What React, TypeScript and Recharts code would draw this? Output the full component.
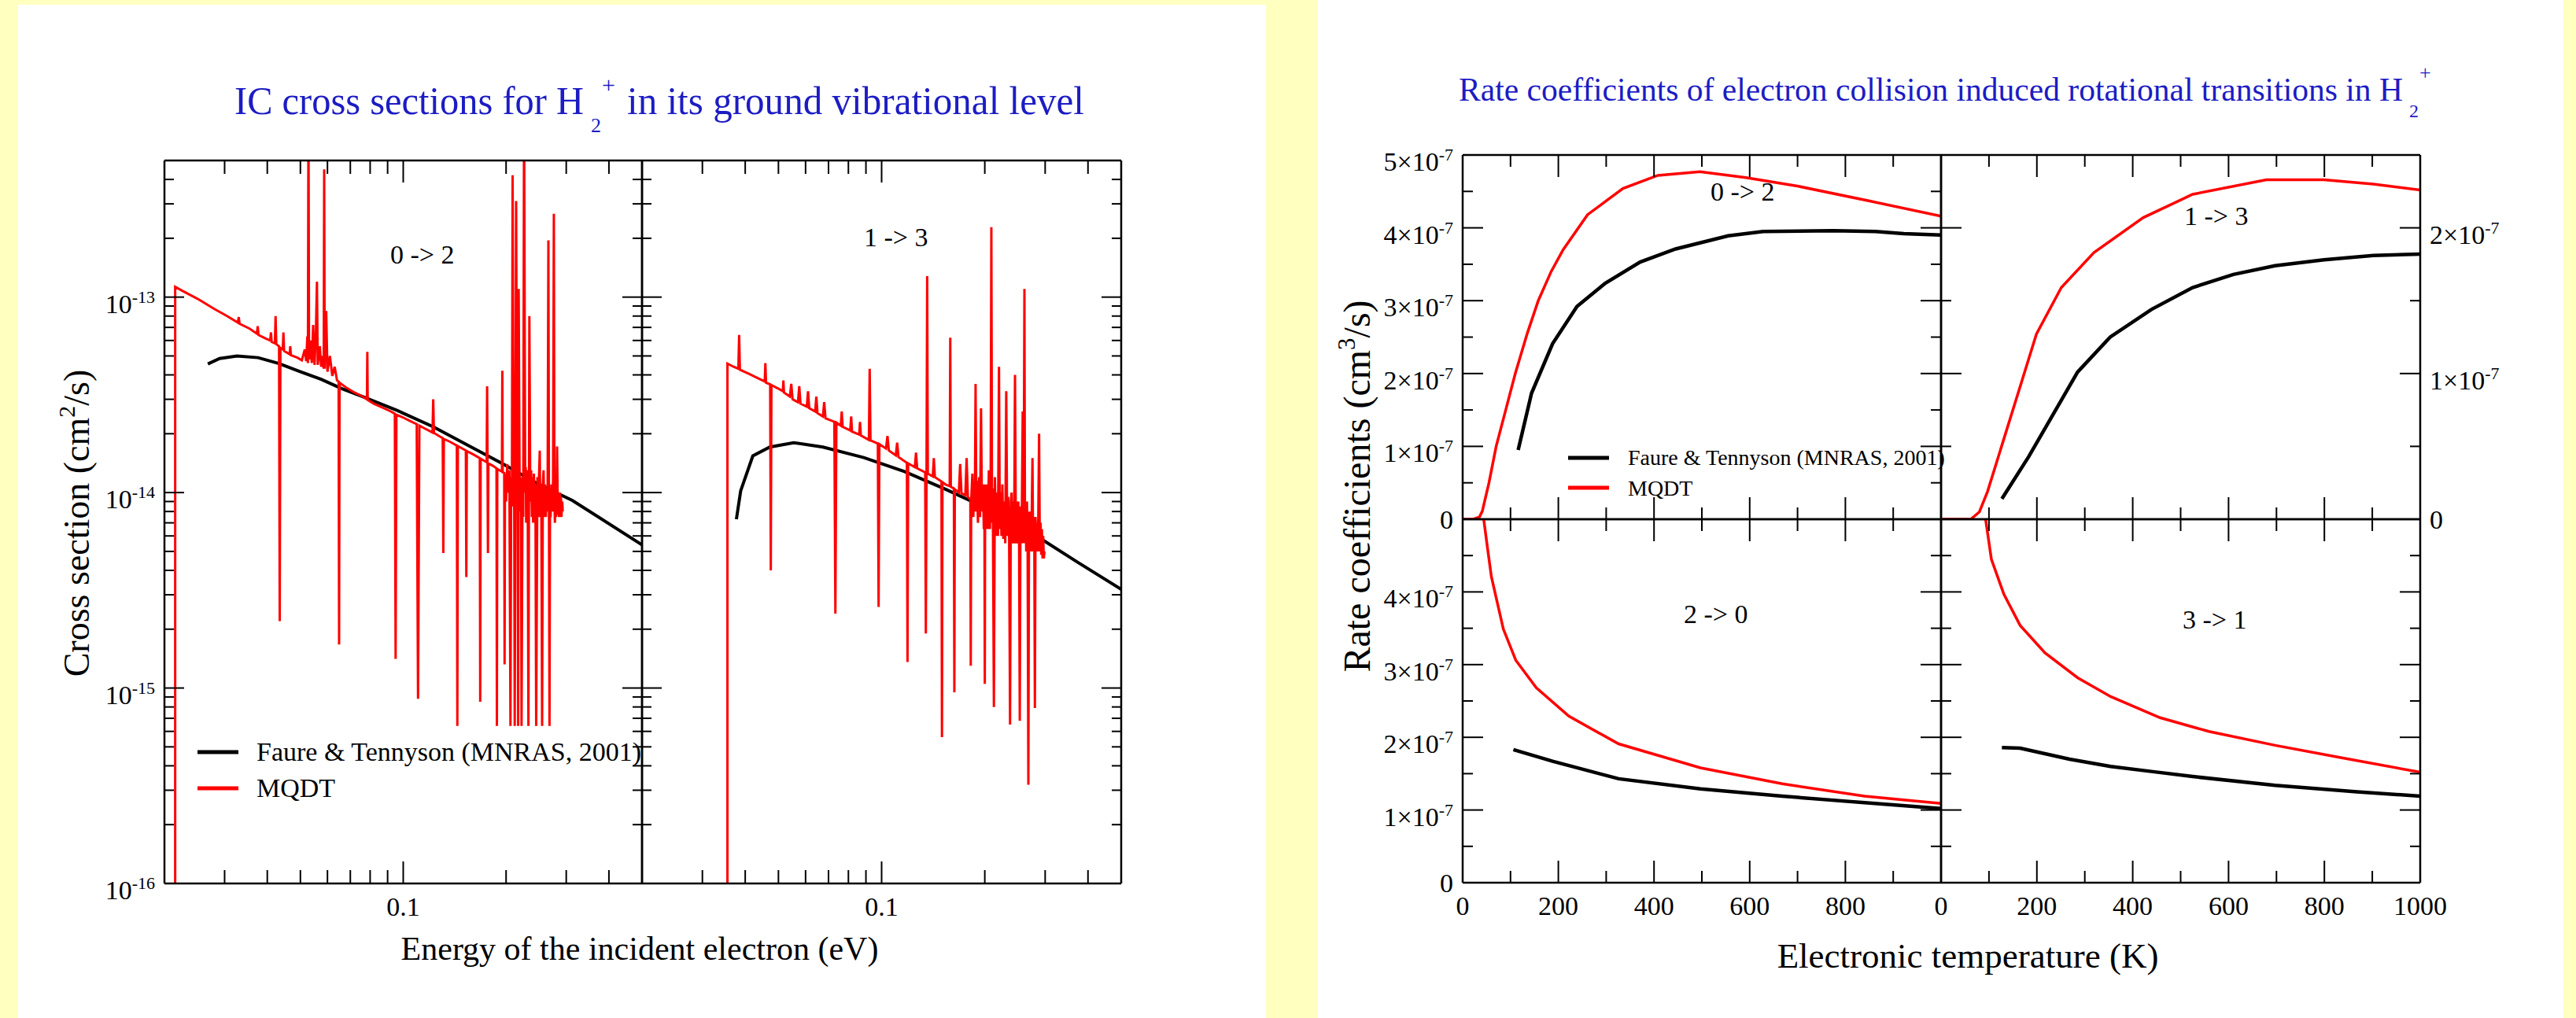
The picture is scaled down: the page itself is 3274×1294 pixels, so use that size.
import React from 'react'
import { LineChart, Line, XAxis, YAxis } from 'recharts'

const SERIF = '"Liberation Serif", "DejaVu Serif", serif'
const BLUE = '#1c1cc4'
const RED = '#ff0000'

type Pt = [number, number]

// ---- IC cross sections (energy in eV, cross section) ----
const faure02: Pt[] = [
  [0.0268, 4.55e-14], [0.029, 4.85e-14], [0.0326, 5.0e-14], [0.0376, 4.9e-14], [0.0433, 4.57e-14],
  [0.0499, 4.16e-14], [0.0575, 3.8e-14], [0.0662, 3.4e-14], [0.0763, 3.09e-14], [0.0965, 2.62e-14],
  [0.1224, 2.17e-14], [0.155, 1.74e-14], [0.196, 1.4e-14], [0.247, 1.11e-14], [0.313, 9.1e-15], [0.5, 5.4e-15],
]

const mqdt02: Pt[] = [
  [0.0215, 1e-16], [0.0215, 1.13e-13], [0.0225, 1.08e-13], [0.025, 9.8e-14], [0.028, 8.7e-14], [0.0305, 8.0e-14],
  [0.0328, 7.4e-14], [0.033, 7.9e-14], [0.0332, 7.3e-14], [0.0355, 6.9e-14], [0.0373, 6.5e-14], [0.0375, 7.1e-14],
  [0.0377, 6.4e-14], [0.0395, 6.15e-14], [0.0408, 6.0e-14], [0.041, 6.6e-14], [0.0412, 5.9e-14], [0.0421, 5.8e-14],
  [0.0423, 8.0e-14], [0.0425, 5.75e-14], [0.0433, 5.6e-14], [0.0435, 2.2e-15], [0.0437, 5.5e-14], [0.0444, 5.4e-14],
  [0.0446, 6.6e-14], [0.0448, 5.3e-14], [0.0465, 5.1e-14], [0.0467, 5.6e-14], [0.0469, 5.05e-14], [0.049, 4.9e-14],
  [0.0505, 4.75e-14], [0.0515, 5.4e-14], [0.052, 4.7e-14], [0.0524, 6.3e-14], [0.0526, 4.6e-14], [0.0528, 1e-12],
  [0.053, 4.8e-14], [0.0535, 6.0e-14], [0.054, 4.6e-14], [0.0545, 7.2e-14], [0.055, 4.5e-14], [0.0555, 6.5e-14],
  [0.0559, 1.2e-13], [0.0562, 4.5e-14], [0.057, 5.6e-14], [0.0575, 4.4e-14], [0.058, 5.0e-14], [0.0585, 4.3e-14],
  [0.0587, 4.5e-13], [0.0589, 4.3e-14], [0.0595, 8.5e-14], [0.06, 4.15e-14], [0.061, 5.0e-14], [0.062, 3.95e-14],
  [0.063, 4.4e-14], [0.064, 3.75e-14], [0.0647, 3.7e-14], [0.0649, 1.67e-15], [0.0651, 3.65e-14], [0.068, 3.45e-14],
  [0.072, 3.25e-14], [0.076, 3.1e-14], [0.0783, 3.0e-14], [0.0785, 5.25e-14], [0.0787, 2.98e-14], [0.082, 2.85e-14],
  [0.087, 2.72e-14], [0.092, 2.6e-14], [0.0945, 2.53e-14], [0.095, 1.41e-15], [0.0955, 2.5e-14], [0.1, 2.42e-14],
  [0.105, 2.32e-14], [0.1095, 2.24e-14], [0.1105, 8.8e-16], [0.1115, 2.2e-14], [0.116, 2.12e-14], [0.1218, 2.03e-14],
  [0.1224, 3.0e-14], [0.123, 2.02e-14], [0.127, 1.95e-14], [0.1305, 1.9e-14], [0.131, 4.9e-15], [0.1315, 1.88e-14],
  [0.137, 1.82e-14], [0.1435, 1.74e-14], [0.144, 6.4e-16], [0.1445, 1.73e-14], [0.148, 1.69e-14], [0.1525, 1.64e-14],
  [0.153, 3.7e-15], [0.1535, 1.63e-14], [0.16, 1.57e-14], [0.1675, 1.5e-14], [0.168, 8.5e-16], [0.1685, 1.49e-14],
  [0.1755, 1.43e-14], [0.176, 3.5e-14], [0.1765, 1.42e-14], [0.177, 4.9e-15], [0.1775, 1.41e-14], [0.183, 1.37e-14],
  [0.1875, 1.33e-14], [0.188, 6.4e-16], [0.1885, 1.32e-14], [0.1945, 1.28e-14], [0.195, 4.2e-14], [0.1955, 1.27e-14],
  [0.1975, 1.26e-14], [0.198, 1.32e-15], [0.1985, 1.25e-14], [0.2, 9e-15], [0.2015, 1.4e-14], [0.203, 1.0e-14],
  [0.2045, 1.3e-14], [0.206, 6.4e-16], [0.207, 1.2e-14], [0.208, 8.5e-15], [0.209, 4.2e-13], [0.2105, 1.1e-14],
  [0.2113, 8e-15], [0.212, 6.4e-16], [0.213, 1.25e-14], [0.214, 3.1e-13], [0.2155, 1.0e-14], [0.2162, 1.4e-14],
  [0.217, 6.4e-16], [0.2177, 1.1e-13], [0.219, 1.3e-14], [0.2198, 8e-15], [0.2205, 1.2e-14], [0.2212, 8e-15],
  [0.222, 6.4e-16], [0.2235, 1.2e-14], [0.2245, 7.5e-15], [0.2258, 1e-12], [0.2275, 1.0e-14], [0.2283, 1.35e-14],
  [0.229, 7e-15], [0.2305, 1.3e-14], [0.2315, 8e-15], [0.2325, 6.4e-16], [0.234, 8e-14], [0.2355, 9e-15],
  [0.2368, 1.3e-14], [0.238, 7.5e-15], [0.239, 1.2e-14], [0.24, 7e-15], [0.2412, 1.25e-14], [0.2425, 8e-15],
  [0.2437, 1.1e-14], [0.245, 6.4e-16], [0.247, 1.2e-14], [0.2482, 7.5e-15], [0.2495, 1.15e-14], [0.251, 1.64e-14],
  [0.2518, 7.5e-15], [0.2525, 1.1e-14], [0.2537, 8e-15], [0.255, 6.4e-16], [0.2562, 1.1e-14], [0.2575, 1.3e-14],
  [0.2587, 7.5e-15], [0.26, 1.1e-14], [0.2615, 7.5e-15], [0.263, 1.05e-14], [0.2645, 8e-15], [0.266, 1.95e-13],
  [0.267, 9e-15], [0.268, 6.4e-16], [0.269, 1.05e-14], [0.27, 7.5e-15], [0.2715, 1.1e-14], [0.273, 8e-15],
  [0.2745, 1.15e-14], [0.276, 2.67e-13], [0.277, 9e-15], [0.278, 7e-15], [0.279, 1.1e-14], [0.28, 7.5e-15],
  [0.281, 1.0e-14], [0.282, 1.72e-14], [0.2835, 7.7e-15], [0.2845, 1.0e-14], [0.2855, 7.5e-15], [0.287, 1.0e-14],
  [0.288, 7.5e-15], [0.2895, 9.5e-15], [0.2905, 7.5e-15], [0.292, 9e-15], [0.293, 8e-15],
]

const faure13: Pt[] = [
  [0.0377, 7.3e-15], [0.0388, 1.02e-14], [0.0421, 1.54e-14], [0.0472, 1.71e-14], [0.0554, 1.8e-14],
  [0.0674, 1.71e-14], [0.0887, 1.51e-14], [0.1166, 1.28e-14], [0.1536, 1.04e-14], [0.203, 8.3e-15],
  [0.283, 6.0e-15], [0.373, 4.4e-15], [0.5, 3.2e-15],
]

const mqdt13: Pt[] = [
  [0.0355, 1e-16], [0.0355, 4.57e-14], [0.037, 4.4e-14], [0.0382, 4.3e-14], [0.0384, 6.4e-14], [0.0386, 4.25e-14],
  [0.041, 4.05e-14], [0.0435, 3.85e-14], [0.0456, 3.7e-14], [0.0458, 4.6e-14], [0.046, 3.65e-14], [0.0473, 3.58e-14],
  [0.0475, 4.0e-15], [0.0477, 3.55e-14], [0.05, 3.4e-14], [0.0515, 3.3e-14], [0.0517, 3.75e-14], [0.0519, 3.25e-14],
  [0.054, 3.1e-14], [0.0545, 3.6e-14], [0.055, 3.0e-14], [0.057, 2.9e-14], [0.0575, 3.5e-14], [0.058, 2.85e-14],
  [0.0605, 2.75e-14], [0.061, 3.3e-14], [0.0615, 2.7e-14], [0.064, 2.6e-14], [0.0645, 3.1e-14], [0.065, 2.55e-14],
  [0.0674, 2.45e-14], [0.068, 2.9e-14], [0.0686, 2.4e-14], [0.0728, 2.3e-14], [0.0733, 2.4e-15], [0.0738, 2.28e-14],
  [0.076, 2.2e-14], [0.0765, 2.6e-14], [0.077, 2.17e-14], [0.081, 2.08e-14], [0.0815, 2.45e-14], [0.082, 2.05e-14],
  [0.086, 1.98e-14], [0.0865, 2.3e-14], [0.087, 1.96e-14], [0.0918, 1.86e-14], [0.0923, 4.3e-14], [0.0928, 1.85e-14],
  [0.0975, 1.78e-14], [0.098, 2.6e-15], [0.0985, 1.77e-14], [0.103, 1.68e-14], [0.104, 1.95e-14], [0.105, 1.64e-14],
  [0.11, 1.55e-14], [0.111, 1.8e-14], [0.112, 1.52e-14], [0.1185, 1.42e-14], [0.119, 1.36e-15], [0.1195, 1.41e-14],
  [0.125, 1.35e-14], [0.126, 1.6e-14], [0.127, 1.33e-14], [0.134, 1.27e-14], [0.1346, 1.9e-15], [0.1352, 1.26e-14],
  [0.1358, 1.28e-13], [0.1364, 1.25e-14], [0.141, 1.21e-14], [0.142, 1.5e-14], [0.143, 1.2e-14], [0.1495, 1.14e-14],
  [0.15, 5.6e-16], [0.1505, 1.13e-14], [0.1536, 1.1e-14], [0.158, 1.08e-14], [0.1586, 6.2e-14], [0.1592, 1.07e-14],
  [0.1625, 1.05e-14], [0.163, 9.5e-16], [0.1635, 1.04e-14], [0.168, 1.0e-14], [0.1695, 1.4e-14], [0.171, 9.9e-15],
  [0.1755, 9.7e-15], [0.177, 1.5e-14], [0.1785, 9.5e-15], [0.1815, 9.2e-15], [0.182, 1.3e-15], [0.1825, 9.1e-15],
  [0.184, 1.25e-14], [0.1852, 7.5e-15], [0.186, 1.1e-14], [0.187, 8e-15], [0.188, 3.6e-14], [0.189, 8e-15],
  [0.19, 1.15e-14], [0.191, 7e-15], [0.1925, 1.2e-14], [0.1937, 7.5e-15], [0.195, 2.7e-14], [0.1962, 8e-15],
  [0.1975, 1.1e-14], [0.1987, 6.5e-15], [0.1995, 9e-15], [0.2, 1.05e-15], [0.2005, 1.1e-14], [0.2018, 6.5e-15],
  [0.203, 1.1e-14], [0.2042, 6.5e-15], [0.2055, 1.3e-14], [0.207, 6.5e-15], [0.208, 1.0e-14], [0.209, 2.28e-13],
  [0.21, 7e-15], [0.211, 1.05e-14], [0.2126, 8.0e-16], [0.214, 1.2e-14], [0.2155, 6e-15], [0.217, 1.0e-14],
  [0.2185, 6e-15], [0.22, 4.4e-14], [0.2212, 6.5e-15], [0.2225, 1.0e-14], [0.2237, 6e-15], [0.225, 1.1e-14],
  [0.2265, 5.8e-15], [0.228, 9e-15], [0.2295, 5.5e-15], [0.231, 3.3e-14], [0.2325, 6e-15], [0.234, 9.5e-15],
  [0.2355, 6e-15], [0.237, 6.5e-16], [0.2382, 9e-15], [0.2395, 1.0e-14], [0.2407, 5.5e-15], [0.242, 9e-15],
  [0.2435, 5.5e-15], [0.245, 4.0e-14], [0.2465, 5.5e-15], [0.248, 9e-15], [0.2492, 5.5e-15], [0.2505, 9e-15],
  [0.2518, 5.5e-15], [0.253, 6.8e-16], [0.2542, 8.5e-15], [0.2555, 5.5e-15], [0.2567, 9e-15], [0.258, 2.6e-14],
  [0.2595, 5.5e-15], [0.261, 1.1e-13], [0.262, 5.5e-15], [0.263, 8.5e-15], [0.2642, 5e-15], [0.2655, 9e-15],
  [0.2667, 5e-15], [0.268, 3.2e-16], [0.2692, 8e-15], [0.2705, 5e-15], [0.2717, 8e-15], [0.273, 5e-15],
  [0.2742, 8e-15], [0.2755, 1.5e-14], [0.2767, 5e-15], [0.278, 7.5e-15], [0.279, 5e-15], [0.28, 7.9e-16],
  [0.2812, 7.5e-15], [0.2825, 5e-15], [0.2837, 7e-15], [0.285, 5e-15], [0.2865, 7.5e-15], [0.288, 2.0e-14],
  [0.2895, 5e-15], [0.291, 7e-15], [0.2922, 4.8e-15], [0.2935, 6.5e-15], [0.2948, 4.6e-15], [0.296, 6e-15],
  [0.2973, 4.6e-15], [0.2986, 5.0e-15],
]

// ---- rate coefficients (temperature in K, rate in cm3/s) ----
const faureRate02: Pt[] = [
  [116, 0.95e-7], [144, 1.73e-7], [188, 2.41e-7], [239, 2.92e-7], [298, 3.24e-7], [371, 3.53e-7], [445, 3.71e-7],
  [555, 3.89e-7], [628, 3.95e-7], [775, 3.96e-7], [863, 3.95e-7], [922, 3.92e-7], [1000, 3.9e-7],
]
const mqdtRate02: Pt[] = [
  [0, 0], [22, 0], [35, 0.03e-7], [41, 0.11e-7], [55, 0.5e-7], [70, 1.0e-7], [90, 1.5e-7], [110, 2.0e-7],
  [135, 2.55e-7], [158, 3.0e-7], [185, 3.4e-7], [210, 3.7e-7], [261, 4.18e-7], [335, 4.54e-7], [408, 4.72e-7],
  [496, 4.77e-7], [592, 4.69e-7], [702, 4.57e-7], [849, 4.37e-7], [1000, 4.16e-7],
]
const faureRate13: Pt[] = [
  [127, 0.14e-7], [183, 0.43e-7], [234, 0.72e-7], [285, 1.01e-7], [353, 1.25e-7], [439, 1.44e-7], [525, 1.59e-7],
  [610, 1.68e-7], [697, 1.74e-7], [799, 1.78e-7], [902, 1.81e-7], [1000, 1.82e-7],
]
const mqdtRate13: Pt[] = [
  [0, 0], [62, 0], [80, 0.05e-7], [97, 0.19e-7], [131, 0.55e-7], [165, 0.91e-7], [199, 1.27e-7], [251, 1.59e-7],
  [319, 1.83e-7], [422, 2.07e-7], [525, 2.23e-7], [679, 2.33e-7], [799, 2.33e-7], [902, 2.3e-7], [1000, 2.26e-7],
]
const faureRate20: Pt[] = [
  [106, 1.83e-7], [188, 1.67e-7], [326, 1.43e-7], [497, 1.29e-7], [668, 1.19e-7], [840, 1.1e-7], [1000, 1.02e-7],
]
const mqdtRate20: Pt[] = [
  [36, 6e-7], [44, 5.0e-7], [52, 4.6e-7], [60, 4.21e-7], [85, 3.49e-7], [111, 3.06e-7], [154, 2.68e-7],
  [222, 2.29e-7], [326, 1.91e-7], [497, 1.58e-7], [668, 1.36e-7], [840, 1.19e-7], [1000, 1.09e-7],
]
const faureRate31: Pt[] = [
  [127, 1.86e-7], [165, 1.85e-7], [268, 1.7e-7], [354, 1.6e-7], [439, 1.53e-7], [525, 1.46e-7], [697, 1.34e-7],
  [868, 1.25e-7], [1000, 1.19e-7],
]
const mqdtRate31: Pt[] = [
  [88, 6e-7], [93, 5.0e-7], [105, 4.45e-7], [131, 3.97e-7], [165, 3.54e-7], [217, 3.16e-7], [285, 2.82e-7],
  [354, 2.56e-7], [457, 2.27e-7], [559, 2.08e-7], [697, 1.89e-7], [834, 1.72e-7], [1000, 1.52e-7],
]

// ---- ticks ----
const energyTicks = [0.02, 0.03, 0.04, 0.05, 0.06, 0.07, 0.08, 0.09, 0.1, 0.2, 0.3, 0.4, 0.5]
const energyMajor = [0.1]
const energyLabels = ['0.1']
const sigmaTicks = [
  1e-16, 2e-16, 3e-16, 4e-16, 5e-16, 6e-16, 7e-16, 8e-16, 9e-16,
  1e-15, 2e-15, 3e-15, 4e-15, 5e-15, 6e-15, 7e-15, 8e-15, 9e-15,
  1e-14, 2e-14, 3e-14, 4e-14, 5e-14, 6e-14, 7e-14, 8e-14, 9e-14,
  1e-13, 2e-13, 3e-13, 4e-13, 5e-13,
]
const sigmaDecades = [1e-16, 1e-15, 1e-14, 1e-13]
const sigmaExponents = ['-16', '-15', '-14', '-13']

const tempTicks = [0, 100, 200, 300, 400, 500, 600, 700, 800, 900, 1000]
const tempMajor = [0, 200, 400, 600, 800, 1000]
const tempLabelsLeft = ['0', '200', '400', '600', '800', '']
const tempLabelsRight = ['0', '200', '400', '600', '800', '1000']
const rateTicks = [0, 0.5e-7, 1e-7, 1.5e-7, 2e-7, 2.5e-7, 3e-7, 3.5e-7, 4e-7, 4.5e-7, 5e-7]
const rateTicksSmall = [0, 0.5e-7, 1e-7, 1.5e-7, 2e-7, 2.5e-7]
const rateMajor = [0, 1e-7, 2e-7, 3e-7, 4e-7, 5e-7]
const rateMantissa = ['0', '1', '2', '3', '4', '5']

type Side = 'left' | 'right' | 'top' | 'bottom'
type Lab = { main: string; sup?: string }

const near = (a: number, b: number) => Math.abs(a - b) <= Math.abs(b) * 1e-6 + 1e-30

function makeTick(side: Side, majors: number[], majorLen: number, minorLen: number, labels: [number, Lab][] = []) {
  return (props: any) => {
    const x = Number(props.x)
    const y = Number(props.y)
    const v = Number(props.payload?.value)
    const len = majors.some((m) => near(v, m)) ? majorLen : minorLen
    const dx = side === 'left' ? len : side === 'right' ? -len : 0
    const dy = side === 'top' ? len : side === 'bottom' ? -len : 0
    const found = labels.find(([m]) => near(v, m))
    const lab = found && found[1].main ? found[1] : null
    let text = null
    if (lab) {
      const sup = lab.sup ? (
        <tspan dy={-13} fontSize={22}>
          {lab.sup}
        </tspan>
      ) : null
      if (side === 'left' || side === 'right') {
        text = (
          <text
            x={side === 'left' ? x - 12 : x + 12}
            y={y + (lab.sup ? 20 : 12)}
            textAnchor={side === 'left' ? 'end' : 'start'}
            fontSize={34}
            fontFamily={SERIF}
            fill="#000"
          >
            {lab.main}
            {sup}
          </text>
        )
      } else {
        text = (
          <text x={x} y={y + 41} textAnchor="middle" fontSize={34} fontFamily={SERIF} fill="#000">
            {lab.main}
          </text>
        )
      }
    }
    return (
      <g>
        <line x1={x} y1={y} x2={x + dx} y2={y + dy} stroke="#000" strokeWidth={2} />
        {text}
      </g>
    )
  }
}

const energyLab: [number, Lab][] = energyMajor.map((v, i) => [v, { main: energyLabels[i] }])
const sigmaLab: [number, Lab][] = sigmaDecades.map((v, i) => [v, { main: '10', sup: sigmaExponents[i] }])
const rateLabAll: [number, Lab][] = rateMajor.map((v, i) => [v, v === 0 ? { main: '0' } : { main: rateMantissa[i] + '\u00d710', sup: '-7' }])
const rateLabLow: [number, Lab][] = rateLabAll.filter(([v]) => v < 4.5e-7)
const rateLabSmall: [number, Lab][] = rateLabAll.filter(([v]) => v < 2.5e-7)
const tempLabL: [number, Lab][] = tempMajor.map((v, i) => [v, { main: tempLabelsLeft[i] }])
const tempLabR: [number, Lab][] = tempMajor.map((v, i) => [v, { main: tempLabelsRight[i] }])

// cross-section ticks
const csBottom = makeTick('bottom', energyMajor, 28, 17, energyLab)
const csTop = makeTick('top', energyMajor, 28, 17)
const csLeftLab = makeTick('left', sigmaDecades, 25, 12, sigmaLab)
const csLeft = makeTick('left', sigmaDecades, 25, 12)
const csRight = makeTick('right', sigmaDecades, 25, 12)
// rate ticks
const rtTop = makeTick('top', tempMajor, 28, 15)
const rtBottom = makeTick('bottom', tempMajor, 28, 15)
const rtBottomL = makeTick('bottom', tempMajor, 28, 15, tempLabL)
const rtBottomR = makeTick('bottom', tempMajor, 28, 15, tempLabR)
const rtLeftAll = makeTick('left', rateMajor, 26, 13, rateLabAll)
const rtLeftLow = makeTick('left', rateMajor, 26, 13, rateLabLow)
const rtLeft = makeTick('left', rateMajor, 26, 13)
const rtRight = makeTick('right', rateMajor, 26, 13)
const rtRightSmall = makeTick('right', rateMajor, 26, 13, rateLabSmall)

type Series = { data: Pt[]; color: string; width: number }

function Subplot(p: {
  x: number
  y: number
  w: number
  h: number
  log: boolean
  xDomain: [number, number]
  yDomain: [number, number]
  xTicks: number[]
  yTicks: number[]
  tickBottom: any
  tickTop: any
  tickLeft: any
  tickRight: any
  series: Series[]
}) {
  const L = 140
  const R = 140
  const T = 40
  const B = 70
  const scale = p.log ? 'log' : 'linear'
  const axisLine = { stroke: '#000', strokeWidth: 2.5 }
  const common: any = {
    type: 'number',
    allowDataOverflow: true,
    interval: 0,
    tickSize: 0,
    tickMargin: 0,
    tickLine: false,
    axisLine,
    scale,
  }
  return (
    <div style={{ position: 'absolute', left: p.x - L, top: p.y - T }}>
      <LineChart width={p.w + L + R} height={p.h + T + B} margin={{ top: 0, right: 0, bottom: 0, left: 0 }}>
        <XAxis xAxisId="b" orientation="bottom" dataKey="x" height={B} domain={p.xDomain} ticks={p.xTicks} tick={p.tickBottom} {...common} />
        <XAxis xAxisId="t" orientation="top" dataKey="x" height={T} domain={p.xDomain} ticks={p.xTicks} tick={p.tickTop} {...common} />
        <YAxis yAxisId="l" orientation="left" width={L} domain={p.yDomain} ticks={p.yTicks} tick={p.tickLeft} {...common} />
        <YAxis yAxisId="r" orientation="right" width={R} domain={p.yDomain} ticks={p.yTicks} tick={p.tickRight} {...common} />
        {p.series.map((s, i) => (
          <Line
            key={i}
            xAxisId="b"
            yAxisId="l"
            data={s.data.map(([a, b]) => ({ x: a, y: b }))}
            dataKey="y"
            type="linear"
            stroke={s.color}
            strokeWidth={s.width}
            dot={false}
            activeDot={false}
            isAnimationActive={false}
          />
        ))}
      </LineChart>
    </div>
  )
}

export default function App() {
  const eDom: [number, number] = [0.02, 0.5]
  const sDom: [number, number] = [1e-16, 5e-13]
  const tDom: [number, number] = [0, 1000]
  const rDom: [number, number] = [0, 5e-7]
  const rDomSmall: [number, number] = [0, 2.5e-7]
  return (
    <div style={{ position: 'absolute', left: 0, top: 0, width: 3274, height: 1294, background: '#FFFFC0', overflow: 'hidden' }}>
      <div style={{ position: 'absolute', left: 23, top: 6, width: 1586, height: 1288, background: '#fff' }} />
      <div style={{ position: 'absolute', left: 1675, top: 0, width: 1583, height: 1294, background: '#fff' }} />

      {/* IC cross sections */}
      <Subplot x={209} y={204} w={607} h={919} log xDomain={eDom} yDomain={sDom} xTicks={energyTicks} yTicks={sigmaTicks}
        tickBottom={csBottom} tickTop={csTop} tickLeft={csLeftLab} tickRight={csRight}
        series={[{ data: faure02, color: '#000', width: 4 }, { data: mqdt02, color: RED, width: 3 }]} />
      <Subplot x={816} y={204} w={609} h={919} log xDomain={eDom} yDomain={sDom} xTicks={energyTicks} yTicks={sigmaTicks}
        tickBottom={csBottom} tickTop={csTop} tickLeft={csLeft} tickRight={csRight}
        series={[{ data: faure13, color: '#000', width: 4 }, { data: mqdt13, color: RED, width: 3 }]} />

      {/* rate coefficients */}
      <Subplot x={1859} y={197} w={608} h={463} log={false} xDomain={tDom} yDomain={rDom} xTicks={tempTicks} yTicks={rateTicks}
        tickBottom={rtBottom} tickTop={rtTop} tickLeft={rtLeftAll} tickRight={rtRight}
        series={[{ data: faureRate02, color: '#000', width: 4.5 }, { data: mqdtRate02, color: RED, width: 3.5 }]} />
      <Subplot x={2467} y={197} w={609} h={463} log={false} xDomain={tDom} yDomain={rDomSmall} xTicks={tempTicks} yTicks={rateTicksSmall}
        tickBottom={rtBottom} tickTop={rtTop} tickLeft={rtLeft} tickRight={rtRightSmall}
        series={[{ data: faureRate13, color: '#000', width: 4.5 }, { data: mqdtRate13, color: RED, width: 3.5 }]} />
      <Subplot x={1859} y={660} w={608} h={462} log={false} xDomain={tDom} yDomain={rDom} xTicks={tempTicks} yTicks={rateTicks}
        tickBottom={rtBottomL} tickTop={rtTop} tickLeft={rtLeftLow} tickRight={rtRight}
        series={[{ data: faureRate20, color: '#000', width: 4.5 }, { data: mqdtRate20, color: RED, width: 3.5 }]} />
      <Subplot x={2467} y={660} w={609} h={462} log={false} xDomain={tDom} yDomain={rDom} xTicks={tempTicks} yTicks={rateTicks}
        tickBottom={rtBottomR} tickTop={rtTop} tickLeft={rtLeft} tickRight={rtRight}
        series={[{ data: faureRate31, color: '#000', width: 4.5 }, { data: mqdtRate31, color: RED, width: 3.5 }]} />

      <svg width={3274} height={1294} style={{ position: 'absolute', left: 0, top: 0, pointerEvents: 'none' }} fontFamily={SERIF}>
        {/* left figure texts */}
        <text x={298} y={145} fontSize={50} fill={BLUE} textLength={444} lengthAdjust="spacingAndGlyphs">IC cross sections for H</text>
        <text x={751} y={168} fontSize={26} fill={BLUE}>2</text>
        <text x={765} y={118} fontSize={30} fill={BLUE}>+</text>
        <text x={797} y={145} fontSize={50} fill={BLUE} textLength={581} lengthAdjust="spacingAndGlyphs">in its ground vibrational level</text>
        <text x={113} y={665} transform="rotate(-90 113 665)" textAnchor="middle" fontSize={46}>
          Cross section (cm<tspan dy={-18} fontSize={30}>2</tspan><tspan dy={18}>/s)</tspan>
        </text>
        <text x={813} y={1220} textAnchor="middle" fontSize={42}>Energy of the incident electron (eV)</text>
        <text x={496} y={335} fontSize={34}>0 -&gt; 2</text>
        <text x={1098} y={313} fontSize={34}>1 -&gt; 3</text>
        <line x1={251} x2={303} y1={956} y2={956} stroke="#000" strokeWidth={5} />
        <text x={326} y={967} fontSize={34}>Faure &amp; Tennyson (MNRAS, 2001)</text>
        <line x1={251} x2={303} y1={1002} y2={1002} stroke={RED} strokeWidth={5} />
        <text x={326} y={1013} fontSize={34}>MQDT</text>

        {/* right figure texts */}
        <text x={1854} y={128} fontSize={42} fill={BLUE} textLength={1200} lengthAdjust="spacingAndGlyphs">
          Rate coefficients of electron collision induced rotational transitions in H
        </text>
        <text x={3062} y={149} fontSize={24} fill={BLUE}>2</text>
        <text x={3075} y={101} fontSize={26} fill={BLUE}>+</text>
        <text x={1741} y={618} transform="rotate(-90 1741 618)" textAnchor="middle" fontSize={48}>
          Rate coefficients (cm<tspan dy={-19} fontSize={31}>3</tspan><tspan dy={19}>/s)</tspan>
        </text>
        <text x={2501} y={1230} textAnchor="middle" fontSize={45}>Electronic temperature (K)</text>
        <text x={2174} y={255} fontSize={34}>0 -&gt; 2</text>
        <text x={2776} y={286} fontSize={34}>1 -&gt; 3</text>
        <text x={2140} y={792} fontSize={34}>2 -&gt; 0</text>
        <text x={2774} y={799} fontSize={34}>3 -&gt; 1</text>
        <line x1={1993} x2={2045} y1={582} y2={582} stroke="#000" strokeWidth={5} />
        <text x={2069} y={591} fontSize={28}>Faure &amp; Tennyson (MNRAS, 2001)</text>
        <line x1={1993} x2={2045} y1={620} y2={620} stroke={RED} strokeWidth={5} />
        <text x={2069} y={630} fontSize={28}>MQDT</text>
      </svg>
    </div>
  )
}
